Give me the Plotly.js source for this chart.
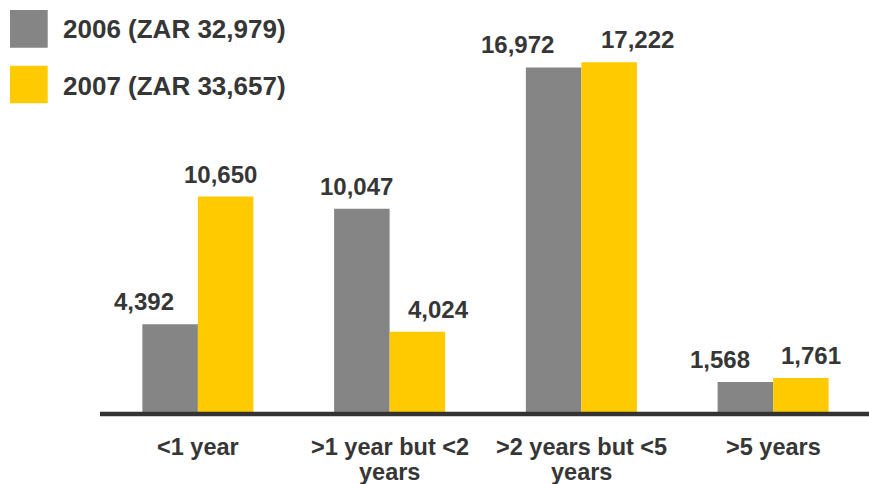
<!DOCTYPE html>
<html>
<head>
<meta charset="utf-8">
<script src="https://cdn.plot.ly/plotly-3.0.1.min.js"></script>
<style>
  html, body { margin: 0; padding: 0; background: #ffffff; }
  #chart { width: 869px; height: 484px; }
</style>
</head>
<body>
<div id="chart"></div>
<script>
// Maturity profile, two years side by side
const categories = ['<1 year', '>1 year but <2<br>years', '>2 years but <5<br>years', '>5 years'];
const values2006 = [4392, 10047, 16972, 1568];
const values2007 = [10650, 4024, 17222, 1761];
const seriesNames = ['2006 (ZAR 32,979)', '2007 (ZAR 33,657)'];

// Styling and placement
const W = 869, H = 484;
const M = { l: 102, r: 0, t: 0, b: 70 };
const PW = W - M.l - M.r, PH = H - M.t - M.b;
const GRAY = '#858585', GOLD = '#FFCA00', INK = '#363636';
const FONT = 'Liberation Sans, Arial, sans-serif';
const BARGAP = 0.421;
const HALF = (1 - BARGAP) / 4;              // bar centre offset in category units
const labelShift2006 = [-26, -5, -36, -25]; // px nudges for value labels
const labelShift2007 = [-5, 21, 28, 10];
const CAT_SIZE = 23.5;
const catLineMid = [446.9, 472.2];          // vertical centres of the category label lines (px)

const px = x => (x - M.l) / PW;
const py = y => 1 - (y - M.t) / PH;

const traces = [
  { type: 'bar', name: seriesNames[0], x: categories, y: values2006,
    marker: { color: GRAY }, hoverinfo: 'skip' },
  { type: 'bar', name: seriesNames[1], x: categories, y: values2007,
    marker: { color: GOLD }, hoverinfo: 'skip' }
];

const annotations = [];
const fmt = v => v.toLocaleString('en-US');
[[values2006, -1, labelShift2006], [values2007, 1, labelShift2007]].forEach(([vals, side, shift]) => {
  vals.forEach((v, i) => {
    annotations.push({
      x: i + side * HALF, y: v, xref: 'x', yref: 'y',
      text: fmt(v), showarrow: false,
      xanchor: 'center', yanchor: 'bottom',
      xshift: shift[i], yshift: 7,
      font: { family: FONT, size: 24, color: INK, weight: 'bold' }
    });
  });
});

// Category labels under the baseline, one annotation per text line
categories.forEach((cat, i) => {
  cat.split('<br>').forEach((line, j) => {
    annotations.push({
      x: i, xref: 'x', yref: 'paper', y: py(catLineMid[j]),
      text: line, showarrow: false, xanchor: 'center', yanchor: 'middle',
      font: { family: FONT, size: CAT_SIZE, color: INK, weight: 'bold' }
    });
  });
});

// Legend: swatches and labels
const legendRows = [{ color: GRAY, top: 10, bottom: 47.7, mid: 29.5 },
                    { color: GOLD, top: 65.7, bottom: 103.3, mid: 86.2 }];
const shapes = [];
legendRows.forEach((row, k) => {
  shapes.push({ type: 'rect', xref: 'paper', yref: 'paper',
    x0: px(10), x1: px(47.7), y0: py(row.bottom), y1: py(row.top),
    line: { width: 0 }, fillcolor: row.color });
  annotations.push({ xref: 'paper', yref: 'paper', x: px(61), y: py(row.mid),
    xanchor: 'left', yanchor: 'middle', showarrow: false, text: seriesNames[k],
    font: { family: FONT, size: 26, color: INK, weight: 'bold' } });
});

// Baseline at the foot of the bars (paper-referenced so it is not clipped)
shapes.push({ type: 'line', xref: 'paper', yref: 'paper', x0: px(100), x1: px(869), y0: 0, y1: 0,
  line: { color: '#333333', width: 4.5 }, layer: 'above' });

const layout = {
  width: W, height: H, margin: M,
  paper_bgcolor: '#ffffff', plot_bgcolor: '#ffffff',
  showlegend: false, barmode: 'group', bargap: BARGAP, bargroupgap: 0,
  xaxis: { type: 'category', showline: false, showgrid: false, zeroline: false, ticks: '',
    showticklabels: false },
  yaxis: { range: [0, 20274], visible: false, showgrid: false, zeroline: false, fixedrange: true },
  shapes: shapes, annotations: annotations
};

Plotly.newPlot('chart', traces, layout, { displayModeBar: false, staticPlot: true });
</script>
</body>
</html>
